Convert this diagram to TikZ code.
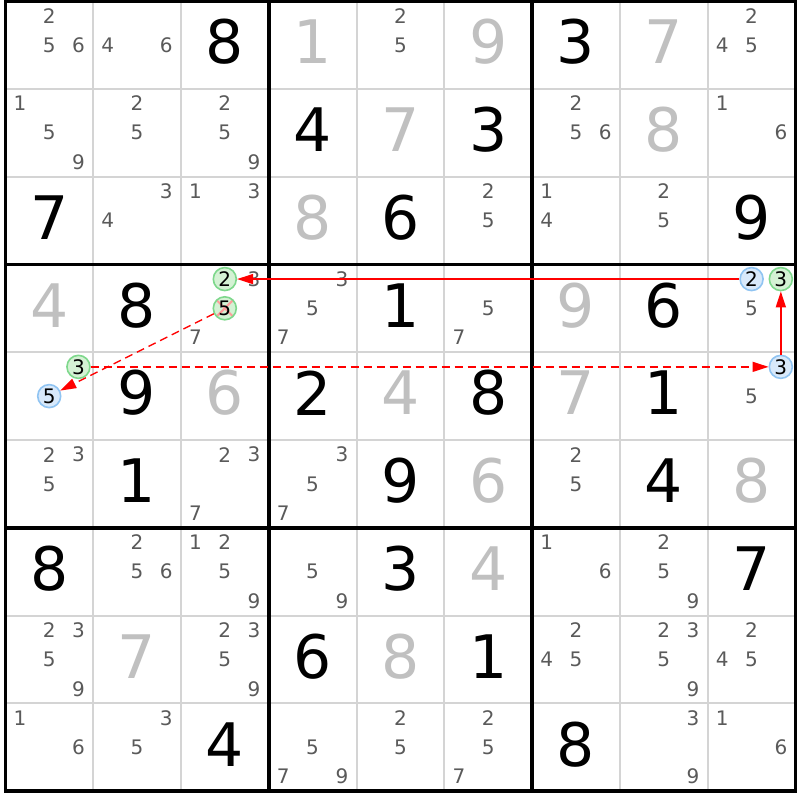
\documentclass[tikz,border=0pt]{standalone}
\usepackage{fontspec}
\setmainfont{DejaVu Sans}
\usepackage{tikz}
\usetikzlibrary{arrows.meta}

\definecolor{solvedcol}{HTML}{C0C0C0}
\definecolor{candcol}{HTML}{5A5A5A}
\definecolor{thingrid}{HTML}{D4D4D4}
\definecolor{greenfill}{HTML}{D4F2D4}
\definecolor{greenline}{HTML}{7ED88C}
\definecolor{bluefill}{HTML}{D8E9FB}
\definecolor{blueline}{HTML}{90C4F2}
\definecolor{crosscol}{HTML}{FF9C9C}

\begin{document}
\begin{tikzpicture}[x=87.8pt, y=-87.8pt,
    given/.style={font=\fontsize{60}{60}\selectfont, text=black, inner sep=0pt, yshift=3pt},
    solved/.style={given, text=solvedcol},
    cand/.style={font=\fontsize{20}{20}\selectfont, text=candcol, inner sep=0pt},
    ring/.style={circle, inner sep=0pt, minimum size=23pt, line width=1.6pt,
        font=\fontsize{20}{20}\selectfont, text=black},
    greenring/.style={ring, draw=greenline, fill=greenfill},
    bluering/.style={ring, draw=blueline, fill=bluefill},
    crossed/.style={path picture={
        \draw[crosscol, line width=2pt]
            (path picture bounding box.north west) -- (path picture bounding box.south east)
            (path picture bounding box.north east) -- (path picture bounding box.south west);}},
    link/.style={red, line width=1.4pt, -{Triangle[length=16pt, width=10pt]}},
    weaklink/.style={link, dash pattern=on 8pt off 5pt}
]
    \useasboundingbox[fill=white] (-0.0604,-0.0114) rectangle (9.0513,9.1002);

    % Grid
    \foreach \i in {1,2,4,5,7,8} {
        \draw[thingrid, line width=2pt] (\i,0) -- (\i,9);
        \draw[thingrid, line width=2pt] (0,\i) -- (9,\i);
    }
    \foreach \i in {3,6} {
        \draw[line width=3.6pt] (\i,0) -- (\i,9);
        \draw[line width=3.6pt] (0,\i) -- (9,\i);
    }
    \draw[line width=3.6pt] (0,0) rectangle (9,9);

    % Givens
    \foreach \c/\r/\d in {2/0/8, 6/0/3, 3/1/4, 5/1/3, 0/2/7, 4/2/6, 8/2/9,
        1/3/8, 4/3/1, 7/3/6, 1/4/9, 3/4/2, 5/4/8, 7/4/1, 1/5/1, 4/5/9, 7/5/4,
        0/6/8, 4/6/3, 8/6/7, 3/7/6, 5/7/1, 2/8/4, 6/8/8}
        \node[given] at (\c+0.5,\r+0.5) {\d};

    % Solved
    \foreach \c/\r/\d in {3/0/1, 5/0/9, 7/0/7, 4/1/7, 7/1/8, 3/2/8, 0/3/4,
        6/3/9, 2/4/6, 4/4/4, 6/4/7, 5/5/6, 8/5/8, 5/6/4, 1/7/7, 4/7/8}
        \node[solved] at (\c+0.5,\r+0.5) {\d};

    % Candidates
    \foreach \c/\r/\cands in {0/0/{2,5,6}, 1/0/{4,6}, 4/0/{2,5}, 8/0/{2,4,5},
        0/1/{1,5,9}, 1/1/{2,5}, 2/1/{2,5,9}, 6/1/{2,5,6}, 8/1/{1,6},
        1/2/{3,4}, 2/2/{1,3}, 5/2/{2,5}, 6/2/{1,4}, 7/2/{2,5},
        2/3/{3,7}, 3/3/{3,5,7}, 5/3/{5,7}, 8/3/{5}, 8/4/{5},
        0/5/{2,3,5}, 2/5/{2,3,7}, 3/5/{3,5,7}, 6/5/{2,5},
        1/6/{2,5,6}, 2/6/{1,2,5,9}, 3/6/{5,9}, 6/6/{1,6}, 7/6/{2,5,9},
        0/7/{2,3,5,9}, 2/7/{2,3,5,9}, 6/7/{2,4,5}, 7/7/{2,3,5,9}, 8/7/{2,4,5},
        0/8/{1,6}, 1/8/{3,5}, 3/8/{5,7,9}, 4/8/{2,5}, 5/8/{2,5,7}, 7/8/{3,9}, 8/8/{1,6}}
        \foreach \k in \cands
            \node[cand] at ({\c+(2*mod(\k-1,3)+1)/6},{\r+(2*floor((\k-1)/3)+1)/6}) {\k};

    % Chain candidates
    \node[greenring] (a2) at (2.5,3.167) {2};
    \node[greenring, crossed] (a5) at (2.5,3.5) {5};
    \node[greenring] (b3) at (0.833,4.167) {3};
    \node[bluering] (b5) at (0.5,4.5) {5};
    \node[bluering] (c2) at (8.5,3.167) {2};
    \node[greenring] (c3) at (8.833,3.167) {3};
    \node[bluering] (d3) at (8.833,4.167) {3};

    % Links
    \draw[link] (c2) -- (a2);
    \draw[link] (d3) -- (c3);
    \draw[weaklink] (b3) -- (d3);
    \draw[weaklink] (a5) -- (b5);
\end{tikzpicture}
\end{document}
